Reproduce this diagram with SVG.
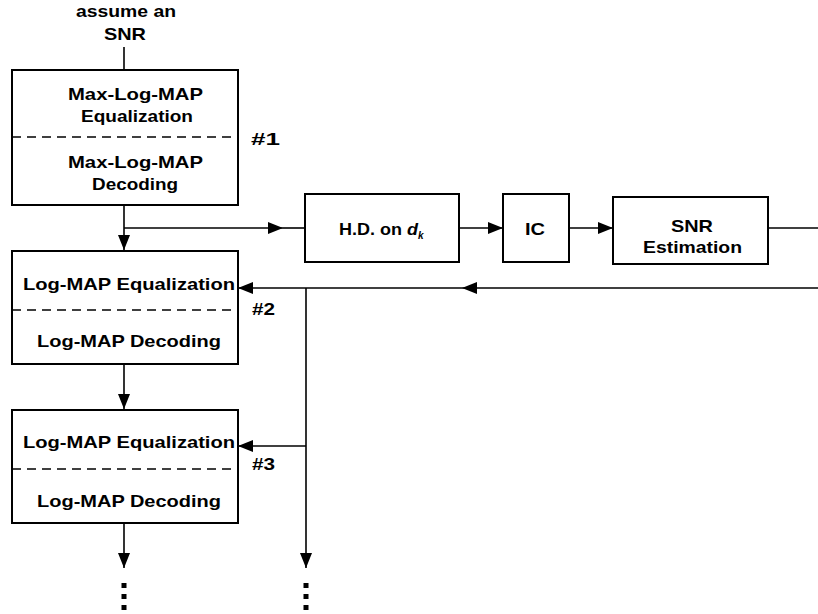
<svg xmlns="http://www.w3.org/2000/svg" width="818" height="614" viewBox="0 0 818 614">
<style>
.box{fill:#fff;stroke:#000;stroke-width:2}
.dash{stroke:#000;stroke-width:1.5;stroke-dasharray:9 6}
.t{font-family:"Liberation Sans",Arial,sans-serif;font-weight:bold;font-size:17px;fill:#000;text-anchor:middle}
.l{fill:none;stroke:#000;stroke-width:1.6}
.dot{fill:#000}
</style>
<defs>
<marker id="ah" markerWidth="16" markerHeight="12" refX="15" refY="6" orient="auto" markerUnits="userSpaceOnUse">
<path d="M0,0 L15,6 L0,12 Z" fill="#000"/>
</marker>
</defs>
<text class="t" x="126" y="17" textLength="100" lengthAdjust="spacingAndGlyphs">assume an</text>
<text class="t" x="125" y="40" textLength="42" lengthAdjust="spacingAndGlyphs">SNR</text>
<g id="connectors">
<line class="l" x1="124" y1="47" x2="124" y2="70"/>
<line class="l" x1="124" y1="205" x2="124" y2="250" marker-end="url(#ah)"/>
<line class="l" x1="124" y1="228" x2="283" y2="228" marker-end="url(#ah)"/>
<line class="l" x1="283" y1="228" x2="305" y2="228"/>
<line class="l" x1="459" y1="228" x2="503" y2="228" marker-end="url(#ah)"/>
<line class="l" x1="569" y1="228" x2="613" y2="228" marker-end="url(#ah)"/>
<line class="l" x1="768" y1="228" x2="818" y2="228"/>
<line class="l" x1="818" y1="288" x2="462" y2="288" marker-end="url(#ah)"/>
<line class="l" x1="462" y1="288" x2="238" y2="288" marker-end="url(#ah)"/>
<line class="l" x1="306" y1="288" x2="306" y2="568" marker-end="url(#ah)"/>
<line class="l" x1="306" y1="446" x2="238" y2="446" marker-end="url(#ah)"/>
<line class="l" x1="124" y1="364" x2="124" y2="409" marker-end="url(#ah)"/>
<line class="l" x1="124" y1="523" x2="124" y2="568" marker-end="url(#ah)"/>
</g>
<g id="n1">
<rect class="box" x="12" y="70" width="226" height="135"/>
<line class="dash" x1="12" y1="137" x2="238" y2="137"/>
<text class="t" x="135.5" y="100" textLength="135" lengthAdjust="spacingAndGlyphs">Max-Log-MAP</text>
<text class="t" x="137" y="122" textLength="112" lengthAdjust="spacingAndGlyphs">Equalization</text>
<text class="t" x="135.5" y="168" textLength="135" lengthAdjust="spacingAndGlyphs">Max-Log-MAP</text>
<text class="t" x="135" y="190" textLength="86" lengthAdjust="spacingAndGlyphs">Decoding</text>
<text class="t" x="265.5" y="145" textLength="29" lengthAdjust="spacingAndGlyphs">#1</text>
</g>
<g id="n2">
<rect class="box" x="12" y="251" width="226" height="113"/>
<line class="dash" x1="12" y1="310" x2="238" y2="310"/>
<text class="t" x="129" y="290" textLength="212" lengthAdjust="spacingAndGlyphs">Log-MAP Equalization</text>
<text class="t" x="129" y="347" textLength="184" lengthAdjust="spacingAndGlyphs">Log-MAP Decoding</text>
<text class="t" x="263.5" y="315" textLength="23" lengthAdjust="spacingAndGlyphs">#2</text>
</g>
<g id="n3">
<rect class="box" x="12" y="410" width="226" height="113"/>
<line class="dash" x1="12" y1="469" x2="238" y2="469"/>
<text class="t" x="129" y="448" textLength="212" lengthAdjust="spacingAndGlyphs">Log-MAP Equalization</text>
<text class="t" x="129" y="507" textLength="184" lengthAdjust="spacingAndGlyphs">Log-MAP Decoding</text>
<text class="t" x="263.5" y="470" textLength="23" lengthAdjust="spacingAndGlyphs">#3</text>
</g>
<g id="hd">
<rect class="box" x="305" y="194" width="154" height="68"/>
<text class="t" x="339" y="235" style="text-anchor:start"><tspan textLength="79" lengthAdjust="spacingAndGlyphs">H.D. on <tspan font-style="italic">d</tspan></tspan><tspan font-style="italic" font-size="10" dy="4">k</tspan></text>
</g>
<g id="ic">
<rect class="box" x="503" y="194" width="66" height="68"/>
<text class="t" x="535" y="235" textLength="20" lengthAdjust="spacingAndGlyphs">IC</text>
</g>
<g id="snr">
<rect class="box" x="613" y="197" width="155" height="67"/>
<text class="t" x="692" y="232" textLength="42" lengthAdjust="spacingAndGlyphs">SNR</text>
<text class="t" x="692.5" y="253" textLength="99" lengthAdjust="spacingAndGlyphs">Estimation</text>
</g>
<g id="dots">
<rect class="dot" x="121.5" y="583" width="5" height="5"/>
<rect class="dot" x="121.5" y="594" width="5" height="5"/>
<rect class="dot" x="121.5" y="605" width="5" height="5"/>
<rect class="dot" x="303.5" y="583" width="5" height="5"/>
<rect class="dot" x="303.5" y="594" width="5" height="5"/>
<rect class="dot" x="303.5" y="605" width="5" height="5"/>
</g>
</svg>
